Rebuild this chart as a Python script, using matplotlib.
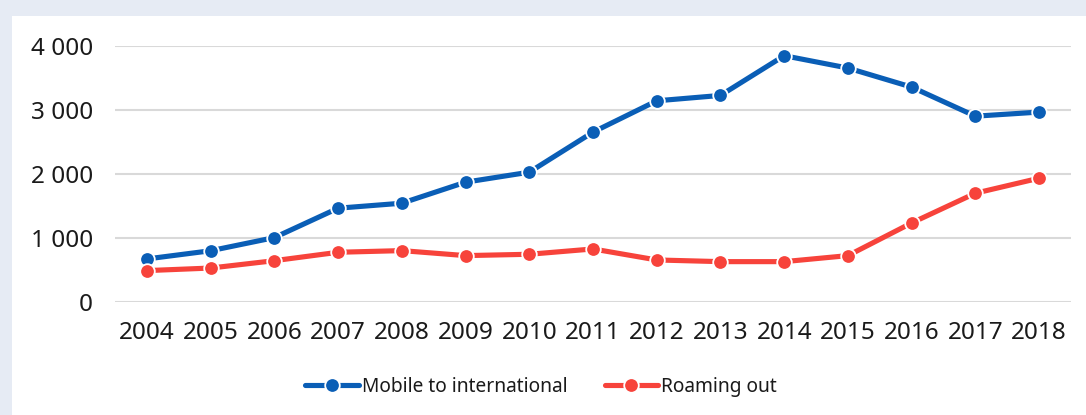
import matplotlib.pyplot as plt
from matplotlib.patches import Rectangle
from matplotlib.ticker import FuncFormatter

# === data ===
years = [str(y) for y in range(2004, 2019)]
mobile_intl = [672, 800, 1005, 1464, 1542, 1870, 2026, 2651, 3140, 3224,
               3844, 3651, 3354, 2900, 2964]
roaming_out = [490, 530, 645, 776, 802, 724, 745, 828, 656, 630,
               630, 724, 1234, 1698, 1932]

BLUE = "#0A5EB6"
RED = "#F7433B"

plt.rcParams['font.family'] = ['Noto Sans', 'DejaVu Sans']

fig = plt.figure(figsize=(10.86, 4.15), dpi=100)
fig.patch.set_facecolor("#E6EBF4")
# white panel inside the grey frame
fig.patches.append(Rectangle((12 / 1086, 0), 1, (415 - 16) / 415,
                             transform=fig.transFigure, facecolor="white",
                             edgecolor="none", zorder=-5))

ax = fig.add_axes([115 / 1086, 1 - 302 / 415, (1071 - 115) / 1086, (302 - 45.7) / 415])
ax.set_facecolor("none")

x = list(range(len(years)))
for vals, col, lab in [(mobile_intl, BLUE, "Mobile to international"),
                       (roaming_out, RED, "Roaming out")]:
    ax.plot(x, vals, color=col, lw=3.7, marker="o", ms=10.5,
            mfc=col, mec="white", mew=1.3, label=lab, clip_on=False,
            solid_capstyle="round", zorder=3)

ax.set_xlim(-0.5, len(years) - 0.5)
ax.set_ylim(0, 4000)
ax.set_yticks([0, 1000, 2000, 3000, 4000])
ax.yaxis.set_major_formatter(FuncFormatter(lambda v, p: f"{int(v):,}".replace(",", " ")))
ax.set_xticks(x)
ax.set_xticklabels(years)

ax.grid(axis="y", color="#D9D9D9", lw=1.5)
ax.set_axisbelow(True)
for s in ax.spines.values():
    s.set_visible(False)
ax.tick_params(axis="both", length=0, labelsize=17.5, colors="#1A1A1A")
ax.tick_params(axis="y", pad=16)
ax.tick_params(axis="x", pad=14)

ax.legend(loc="center", bbox_to_anchor=(0.4456, -0.33), ncol=2, frameon=False,
          fontsize=13.8, handlelength=2.8, handletextpad=0.15, columnspacing=1.95,
          labelcolor="#1A1A1A")

fig.savefig("out.png", dpi=100, facecolor=fig.get_facecolor())
